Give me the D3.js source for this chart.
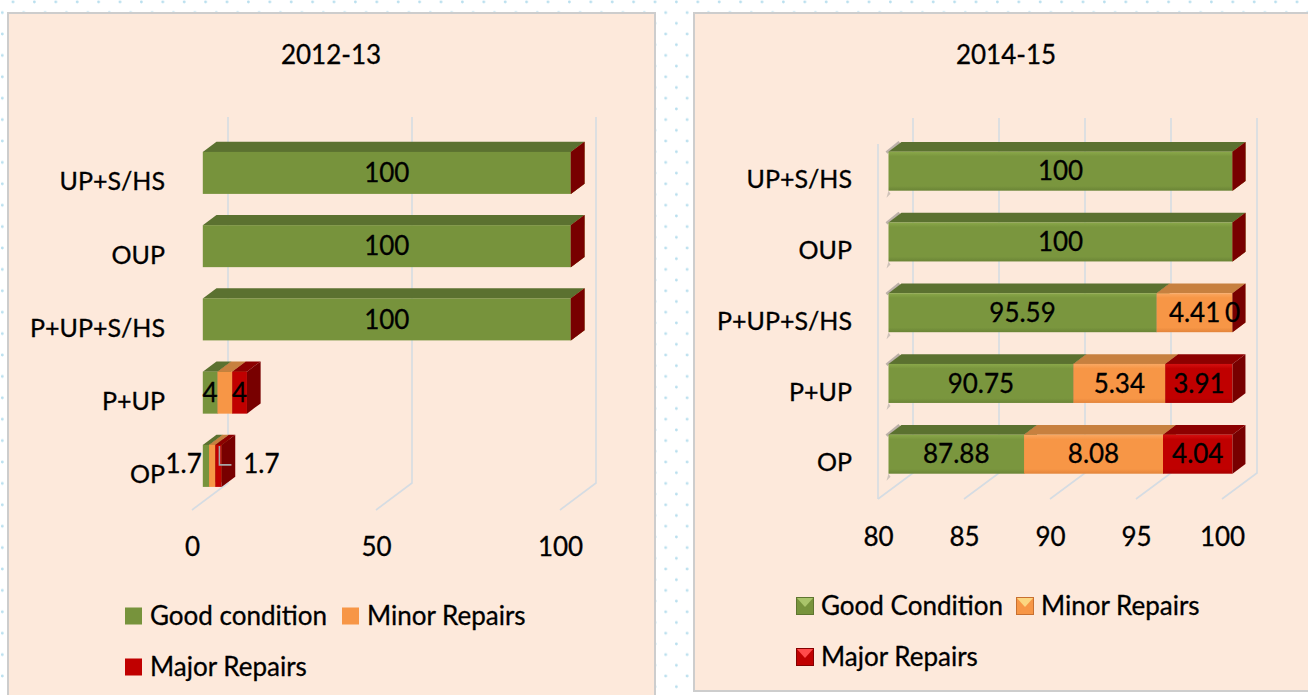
<!DOCTYPE html>
<html><head><meta charset="utf-8">
<script src="https://cdn.jsdelivr.net/npm/d3@7"></script>
<style>
body{margin:0;background:#fff;overflow:hidden;}
svg{display:block;}
text{font-family:Lato,"Open Sans",sans-serif;fill:#000;stroke:#000;stroke-width:0.3px;}
</style>
</head><body>
<svg id="c" width="1308" height="695"></svg>
<script>
// ---------------- DATA ----------------
const categories = ["UP+S/HS", "OUP", "P+UP+S/HS", "P+UP", "OP"];
const title2012 = "2012-13";
const title2014 = "2014-15";
const series2012 = ["Good condition", "Minor Repairs", "Major Repairs"];
const series2014 = ["Good Condition", "Minor Repairs", "Major Repairs"];
const good2012 = [100, 100, 100, 4, 1.7];
const minor2012 = [0, 0, 0, 4, 1.7];
const major2012 = [0, 0, 0, 4, 1.7];
const good2014 = [100, 100, 95.59, 90.75, 87.88];
const minor2014 = [0, 0, 4.41, 5.34, 8.08];
const major2014 = [0, 0, 0, 3.91, 4.04];
const ticks2012 = [0, 50, 100];
const ticks2014 = [80, 85, 90, 95, 100];

// ---------------- STYLE ----------------
const FS = 26;
const CFS = 25;
const palette = [
  {front:"#77933C", top:"#5B7130", side:"#4F6228", g:["#8AA84A","#7A963E","#6A8436"], bev:["#A9C46A","#5E7530"]},
  {front:"#F79646", top:"#C7803F", side:"#B86F32", g:["#FAA862","#F79646","#E3843A"], bev:["#FCD680","#C87030"]},
  {front:"#C00000", top:"#8C0000", side:"#780000", g:["#D41010","#C00000","#A80000"], bev:["#FF4A4A","#840000"]}
];

const svg = d3.select("#c");
const defs = svg.append("defs");

// dotted page background
const pat = defs.append("pattern").attr("id","dots").attr("patternUnits","userSpaceOnUse")
  .attr("width",21.4).attr("height",21.4);
pat.append("circle").attr("cx",13).attr("cy",2).attr("r",1.4).attr("fill","#b9dfee");
pat.append("circle").attr("cx",2.3).attr("cy",12.7).attr("r",1.4).attr("fill","#b9dfee");
svg.append("rect").attr("width",1308).attr("height",695).attr("fill","#fff");
svg.append("rect").attr("width",1308).attr("height",695).attr("fill","url(#dots)");

// gradients for the 2014 chart
palette.forEach((p,i)=>{
  const lg = defs.append("linearGradient").attr("id","grad"+i).attr("x1",0).attr("y1",0).attr("x2",0).attr("y2",1);
  lg.append("stop").attr("offset","0%").attr("stop-color",p.g[0]);
  lg.append("stop").attr("offset","12%").attr("stop-color",p.g[1]);
  lg.append("stop").attr("offset","88%").attr("stop-color",p.g[1]);
  lg.append("stop").attr("offset","100%").attr("stop-color",p.g[2]);
});

// panels
svg.append("rect").attr("x",8).attr("y",13).attr("width",647).attr("height",720)
  .attr("fill","#FDE9DB").attr("stroke","#cdcdcd").attr("stroke-width",2);
svg.append("rect").attr("x",694).attr("y",13).attr("width",640).attr("height",678)
  .attr("fill","#FDE9DB").attr("stroke","#cdcdcd").attr("stroke-width",2);

function drawChart(cfg){
  const g = svg.append("g");
  const x = d3.scaleLinear().domain(cfg.domain).range(cfg.range).clamp(true);
  const y = d3.scalePoint().domain(categories).range(cfg.catRange);
  const {DX, DY, z0, z1, h} = cfg;
  const P = (v, yc, z, off) => [x(v) + z*DX, yc - z*DY + off];

  // title
  g.append("text").attr("x",cfg.titleX).attr("y",cfg.titleY).attr("text-anchor","middle")
    .attr("dy","0.35em").style("font-size",FS+"px").text(cfg.title);

  // walls / gridlines
  const grid = g.append("g").attr("stroke","#d5dce3").attr("stroke-width",1.6).attr("fill","none");
  cfg.ticks.forEach(t=>{
    const xf = x(t);
    grid.append("path").attr("d",`M${xf+DX},${cfg.wallTop}V${cfg.floorY-DY}L${xf},${cfg.floorY}`);
  });
  if (cfg.sideWall){
    const xf = x(cfg.domain[0]);
    grid.append("path").attr("d",`M${xf},${cfg.floorY}V${cfg.wallTop+DY}`);
  }

  // bars
  const rows = categories.map((c,i)=>({cat:c, vals:[cfg.good[i], cfg.minor[i], cfg.major[i]]}));
  const stacked = d3.stack().keys([0,1,2]).value((d,k)=>d.vals[k])(rows);
  const poly = pts => "M" + pts.map(p=>p.join(",")).join("L") + "Z";
  const labels = [];
  rows.forEach((r,i)=>{
    const yc = y(r.cat);
    const bg = g.append("g");
    if (cfg.shadow){
      const a = P(cfg.domain[0],yc,z0,-h), b = P(cfg.domain[0],yc,z1,-h);
      bg.append("path").attr("d",`M${a[0]-2},${a[1]+1}L${b[0]-2},${b[1]}`)
        .attr("stroke","#6d6d6d").attr("stroke-opacity",0.45).attr("stroke-width",3).attr("fill","none");
      const c = P(cfg.domain[0],yc,z0,h);
      bg.append("path").attr("d",`M${c[0]},${c[1]}L${c[0]-2},${c[1]+7}L${c[0]+2},${c[1]+3}Z`)
        .attr("fill","#8a8a8a").attr("fill-opacity",0.4);
    }
    stacked.forEach((s,k)=>{
      const v0 = s[i][0], v1 = s[i][1];
      const col = palette[k];
      bg.append("path").attr("d", poly([P(v0,yc,z0,-h),P(v1,yc,z0,-h),P(v1,yc,z1,-h),P(v0,yc,z1,-h)]))
        .attr("fill", col.top);
      const a = P(v0,yc,z0,-h), b = P(v1,yc,z0,h);
      bg.append("rect").attr("x",a[0]).attr("y",a[1]).attr("width",Math.max(0,b[0]-a[0])).attr("height",b[1]-a[1])
        .attr("fill", cfg.gradient ? `url(#grad${k})` : col.front);
      bg.append("path").attr("d", poly([P(v1,yc,z0,-h),P(v1,yc,z1,-h),P(v1,yc,z1,h),P(v1,yc,z0,h)]))
        .attr("fill", col.side);
      labels.push({i, k, v0, v1, val:r.vals[k], cat:r.cat, yc});
    });
  });

  // data labels
  const lg = g.append("g").style("font-size",FS+"px");
  labels.forEach(L=>{
    if (cfg.hideSeries.includes(L.k)) return;
    if (L.val === 0 && !cfg.showZero(L.cat, L.k)) return;
    const fx0 = x(L.v0) + z0*DX, fx1 = x(L.v1) + z0*DX;
    const fy = L.yc - z0*DY;
    const rowTotalW = x(d3.sum(rows[L.i].vals)) - x(cfg.domain[0]);
    if (rowTotalW < 30){
      // narrow bar: labels pushed outside with a leader line
      if (L.k === 0){
        lg.append("text").attr("x",fx0-1).attr("y",fy-2).attr("dy","0.35em").attr("text-anchor","end").text(L.val);
      } else {
        const cx = (fx0+fx1)/2;
        const endX = x(L.v1) + z1*DX;
        lg.append("path").attr("d",`M${cx+1},${fy-20}V${fy-1}H${cx+13}`)
          .attr("stroke","#a6a6a6").attr("stroke-width",1.6).attr("fill","none");
        lg.append("text").attr("x",endX+8).attr("y",fy-2).attr("dy","0.35em").attr("text-anchor","start").text(L.val);
      }
    } else {
      lg.append("text").attr("x",(fx0+fx1)/2).attr("y",fy).attr("dy","0.35em").attr("text-anchor","middle").text(L.val);
    }
  });

  // value axis
  const ax = g.append("g").attr("transform",`translate(0,${cfg.floorY})`)
    .call(d3.axisBottom(x).tickValues(cfg.ticks).tickSize(0).tickFormat(d3.format("d")));
  ax.select(".domain").remove();
  ax.selectAll("text").attr("y",cfg.tickOff).attr("dy","0.35em").style("font-size",FS+"px")
    .style("font-family","Lato, 'Open Sans', sans-serif").attr("fill","#000");

  // category axis
  const cx = g.append("g").attr("transform",`translate(${cfg.catX},0)`)
    .call(d3.axisLeft(y).tickSize(0).tickPadding(0));
  cx.select(".domain").remove();
  cx.selectAll("text").attr("dy","0.35em").style("font-size",CFS+"px")
    .style("font-family","Lato, 'Open Sans', sans-serif").attr("fill","#000");

  // legend
  const leg = g.append("g").style("font-size",FS+"px");
  cfg.legend.forEach((it,k)=>{
    const col = palette[k], s = cfg.sq;
    const sx = it[0], sy = it[1] - s/2;
    if (cfg.bevel){
      leg.append("rect").attr("x",sx).attr("y",sy).attr("width",s).attr("height",s).attr("fill",col.front);
      leg.append("path").attr("d",`M${sx},${sy}H${sx+s}L${sx+s/2},${sy+s*0.55}Z`).attr("fill",col.bev[0]);
      leg.append("path").attr("d",`M${sx},${sy+s}H${sx+s}L${sx+s/2},${sy+s*0.55}Z`).attr("fill",col.front);
      leg.append("rect").attr("x",sx+0.5).attr("y",sy+0.5).attr("width",s-1).attr("height",s-1)
        .attr("fill","none").attr("stroke",col.bev[1]).attr("stroke-width",1);
    } else {
      leg.append("rect").attr("x",sx).attr("y",sy).attr("width",s).attr("height",s).attr("fill",col.front);
    }
    leg.append("text").attr("x",sx+s+cfg.gap).attr("y",it[1]).attr("dy","0.35em").text(cfg.names[k]);
  });
}

drawChart({
  title: title2012, titleX: 331, titleY: 55,
  good: good2012, minor: minor2012, major: major2012, ticks: ticks2012, names: series2012,
  domain: [0,100], range: [192,560], catRange: [181,474], catX: 165,
  floorY: 510, wallTop: 117, DX: 36, DY: 27, z0: 0.3, z1: 0.68, h: 21, tickOff: 37,
  gradient: false, sideWall: false, shadow: false, hideSeries: [1], showZero: () => false,
  legend: [[125,616],[342,616],[125,667]], sq: 17, gap: 8, bevel: false
});

drawChart({
  title: title2014, titleX: 1006, titleY: 55,
  good: good2014, minor: minor2014, major: major2014, ticks: ticks2014, names: series2014,
  domain: [80,100], range: [878,1222], catRange: [179,462], catX: 852,
  floorY: 499, wallTop: 118, DX: 35, DY: 26, z0: 0.3, z1: 0.67, h: 19.5, tickOff: 38,
  gradient: true, sideWall: true, shadow: true, hideSeries: [], showZero: (c,k) => c === "P+UP+S/HS" && k === 2,
  legend: [[796,606],[1016,606],[796,657]], sq: 18, gap: 7, bevel: true
});
</script>
</body></html>
